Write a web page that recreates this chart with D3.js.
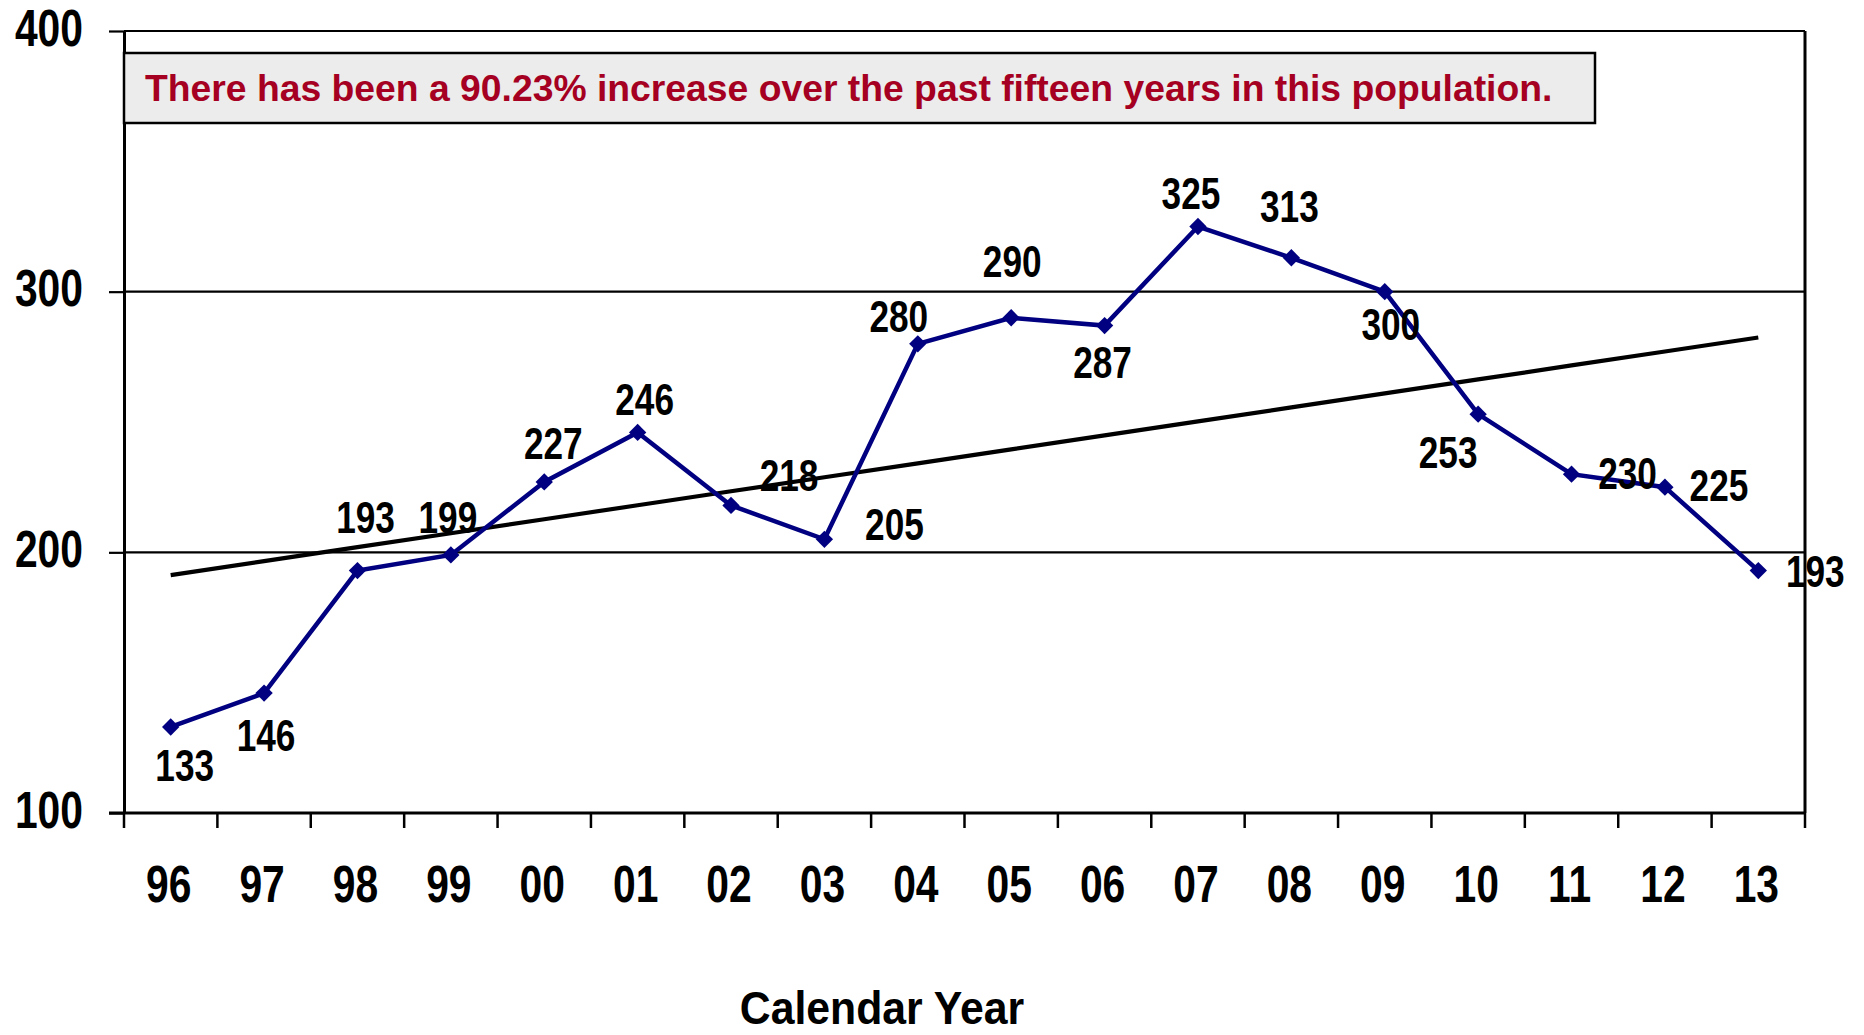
<!DOCTYPE html>
<html>
<head>
<meta charset="utf-8">
<script src="https://cdn.jsdelivr.net/npm/d3@7"></script>
<style>
  body { margin: 0; background: #fff; }
  svg text { font-family: "Liberation Sans", Arial, sans-serif; font-weight: bold; }
</style>
</head>
<body>
<div id="chart"></div>
<script>
// chart data
const years = ['96', '97', '98', '99', '00', '01', '02', '03', '04', '05', '06', '07', '08', '09', '10', '11', '12', '13'];
const population = [133, 146, 193, 199, 227, 246, 218, 205, 280, 290, 287, 325, 313, 300, 253, 230, 225, 193];
const yTicks = [100, 200, 300, 400];
const gridValues = [200, 300, 400];
const note = 'There has been a 90.23% increase over the past fifteen years in this population.';
const xTitle = 'Calendar Year';

// where each data label sits relative to its point (px), like the dragged excel labels
const labelDx = [14, 2, 8, -3, 9, 7, 58, 70, -19, 1, -2, -7, -2, 6, -30, 56, 54, 57];
const labelDy = [54, 58, -38, -22, -23, -17, -14, 1, -12, -41, 52, -18, -36, 48, 54, 15, 14, 16];

const W = 1864, H = 1035;
const plot = { left: 124, right: 1805, top: 31, bottom: 813 };
// no Arial Narrow installed, so squeeze Liberation Sans Bold instead
const NARROW = 0.8;

const svg = d3.select('#chart')
  .append('svg')
  .attr('width', W)
  .attr('height', H);

const x = d3.scaleBand()
  .domain(years)
  .range([plot.left, plot.right])
  .padding(0);

const y = d3.scaleLinear()
  .domain([100, 400])
  .range([plot.bottom, plot.top]);

const cx = d => x(d) + x.bandwidth() / 2;

// gridlines
svg.append('g')
  .selectAll('line')
  .data(gridValues)
  .join('line')
  .attr('x1', plot.left)
  .attr('x2', plot.right)
  .attr('y1', d => y(d))
  .attr('y2', d => y(d))
  .attr('stroke', '#000')
  .attr('stroke-width', 2.2);

// right border of plot area
svg.append('line')
  .attr('x1', plot.right).attr('x2', plot.right)
  .attr('y1', plot.top).attr('y2', plot.bottom)
  .attr('stroke', '#000')
  .attr('stroke-width', 3);

// Y axis
const yAxis = svg.append('g')
  .attr('transform', `translate(${plot.left},0)`)
  .call(d3.axisLeft(y).tickValues(yTicks).tickSize(15).tickSizeOuter(0));
yAxis.select('.domain').attr('stroke', '#000').attr('stroke-width', 3);
yAxis.selectAll('.tick line').attr('stroke', '#000').attr('stroke-width', 2.2);
yAxis.selectAll('text')
  .attr('x', 0)
  .attr('transform', `translate(-41,-2) scale(${NARROW},1)`)
  .attr('text-anchor', 'end')
  .style('font-size', '51px')
  .attr('fill', '#000');

// X axis: labels centred in the categories, tick marks on the boundaries
const xAxis = svg.append('g')
  .attr('transform', `translate(0,${plot.bottom})`)
  .call(d3.axisBottom(x).tickSize(0));
xAxis.select('.domain').remove();
xAxis.selectAll('text')
  .attr('y', 0)
  .attr('dy', '0')
  .attr('transform', `translate(-2,89) scale(${NARROW},1)`)
  .style('font-size', '51px')
  .attr('fill', '#000');

svg.append('line')
  .attr('x1', plot.left - 15).attr('x2', plot.right)
  .attr('y1', plot.bottom).attr('y2', plot.bottom)
  .attr('stroke', '#000')
  .attr('stroke-width', 3);

svg.append('g')
  .selectAll('line')
  .data(d3.range(years.length + 1))
  .join('line')
  .attr('x1', i => plot.left + i * x.step())
  .attr('x2', i => plot.left + i * x.step())
  .attr('y1', plot.bottom)
  .attr('y2', plot.bottom + 15)
  .attr('stroke', '#000')
  .attr('stroke-width', 2.5);

// linear trendline (least squares over the series)
const idx = d3.range(population.length);
const mx = d3.mean(idx), my = d3.mean(population);
const slope = d3.sum(idx, i => (i - mx) * (population[i] - my)) / d3.sum(idx, i => (i - mx) ** 2);
const icpt = my - slope * mx;

svg.append('path')
  .datum(idx)
  .attr('fill', 'none')
  .attr('stroke', '#000')
  .attr('stroke-width', 4.2)
  .attr('d', d3.line()
    .x(i => cx(years[i]))
    .y(i => y(icpt + slope * i)));

// series line
svg.append('path')
  .datum(population)
  .attr('fill', 'none')
  .attr('stroke', '#000080')
  .attr('stroke-width', 4.5)
  .attr('d', d3.line()
    .x((d, i) => cx(years[i]))
    .y(d => y(d)));

// diamond markers
svg.append('g')
  .selectAll('path')
  .data(population)
  .join('path')
  .attr('d', d3.symbol(d3.symbolSquare, 150))
  .attr('transform', (d, i) => `translate(${cx(years[i])},${y(d)}) rotate(45)`)
  .attr('fill', '#000080');

// data labels
svg.append('g')
  .selectAll('text')
  .data(population)
  .join('text')
  .attr('transform', (d, i) => `translate(${cx(years[i]) + labelDx[i]},${y(d) + labelDy[i]}) scale(${NARROW},1)`)
  .attr('text-anchor', 'middle')
  .style('font-size', '44px')
  .attr('fill', '#000')
  .text(d => d);

// note box
svg.append('rect')
  .attr('x', plot.left)
  .attr('y', 53)
  .attr('width', 1595 - plot.left)
  .attr('height', 70)
  .attr('fill', '#ececec')
  .attr('stroke', '#000')
  .attr('stroke-width', 2.5);

svg.append('text')
  .attr('x', 145)
  .attr('y', 101)
  .style('font-size', '37.3px')
  .attr('fill', '#a50021')
  .text(note);

// axis title
svg.append('text')
  .attr('transform', 'translate(882,1024) scale(0.93,1)')
  .attr('text-anchor', 'middle')
  .style('font-size', '46px')
  .attr('fill', '#000')
  .text(xTitle);
</script>
</body>
</html>
